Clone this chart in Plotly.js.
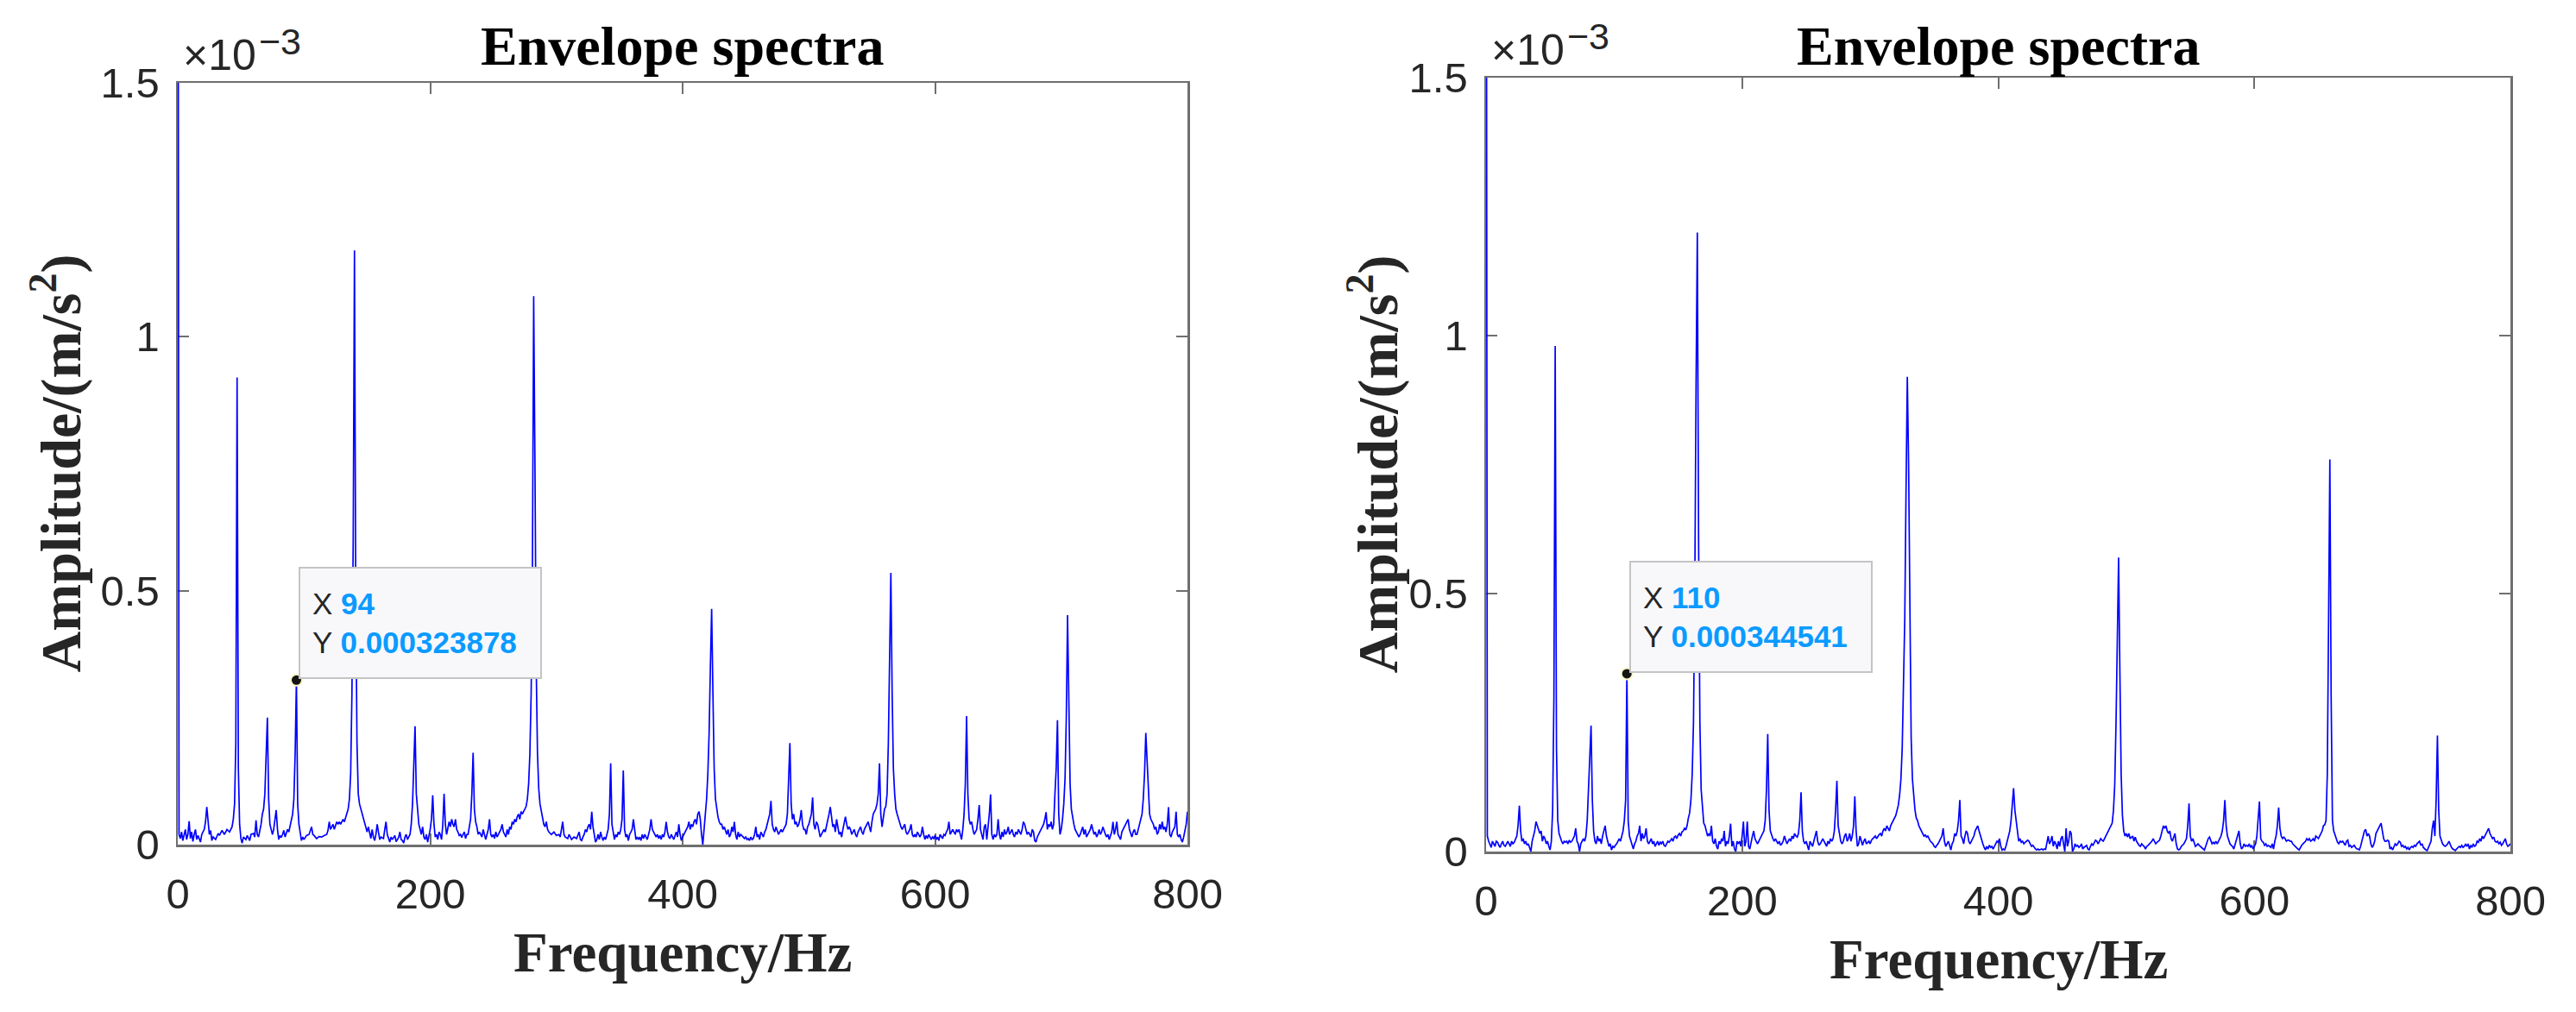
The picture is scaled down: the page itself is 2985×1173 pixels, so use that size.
<!DOCTYPE html>
<html>
<head>
<meta charset="utf-8">
<script src="https://cdn.plot.ly/plotly-3.0.1.min.js"></script>
<style>
html,body{margin:0;padding:0;background:#fff;}
#chart{width:2985px;height:1173px;}
</style>
</head>
<body>
<div id="chart"></div>
<script>
// Envelope spectra, amplitude in units of 1e-3 m/s^2, pairs [frequency Hz, amplitude]
const spectrumLeft = [
[0,2.6],[1,0.02],[2,0.012],[3,0.025],[4,0.008],[5,0.018],[6,0.03],[7,0.01],[8,0.02],[9,0.046],
[10,0.012],[11,0.025],[12,0.006],[13,0.02],[14,0.03],[15,0.01],[16,0.018],[18,0.005],[19,0.02],[21,0.03],
[22,0.045],[23,0.074],[24,0.04],[25,0.02],[26,0.028],[27,0.008],[28,0.015],[30,0.01],[32,0.022],[33,0.018],
[35,0.028],[37,0.02],[39,0.03],[41,0.025],[43,0.035],[44,0.05],[45,0.08],[46,0.2],[47,0.92],[48,0.15],
[49,0.04],[50,0.012],[51,0.003],[52,0.015],[54,0.01],[55,0.018],[57,0.008],[58,0.02],[60,0.022],[61,0.015],
[62,0.048],[63,0.02],[64,0.015],[65,0.025],[66,0.04],[67,0.06],[68,0.07],[69,0.1],[70,0.16],[71,0.25],
[72,0.09],[73,0.04],[74,0.03],[75,0.02],[76,0.03],[77,0.05],[78,0.068],[79,0.03],[80,0.01],[81,0.018],
[82,0.014],[83,0.02],[84,0.028],[85,0.015],[86,0.022],[87,0.03],[88,0.025],[89,0.035],[90,0.05],[91,0.06],
[92,0.09],[93,0.18],[94,0.323878],[95,0.08],[96,0.04],[97,0.02],[98,0.008],[99,0.015],[100,0.01],[102,0.018],
[104,0.02],[106,0.035],[107,0.02],[108,0.018],[110,0.012],[112,0.016],[114,0.015],[116,0.018],[118,0.02],[119,0.028],
[120,0.045],[121,0.03],[122,0.035],[123,0.04],[124,0.03],[125,0.038],[126,0.045],[127,0.04],[128,0.045],[129,0.04],
[130,0.045],[131,0.05],[132,0.045],[133,0.055],[134,0.06],[135,0.07],[136,0.09],[137,0.14],[138,0.3],[139,0.6],
[140,1.17],[141,0.5],[142,0.2],[143,0.1],[144,0.08],[145,0.07],[146,0.06],[147,0.05],[148,0.04],[149,0.03],
[150,0.025],[151,0.035],[152,0.02],[153,0.012],[154,0.03],[155,0.015],[156,0.008],[157,0.02],[158,0.04],[159,0.02],
[160,0.01],[161,0.015],[163,0.012],[164,0.03],[165,0.045],[166,0.02],[167,0.01],[168,0.005],[169,0.015],[170,0.01],
[172,0.018],[173,0.006],[175,0.014],[176,0.025],[177,0.01],[178,0.008],[179,0.003],[180,0.015],[181,0.02],[182,0.01],
[184,0.02],[185,0.04],[186,0.08],[187,0.15],[188,0.233],[189,0.1],[190,0.06],[191,0.04],[192,0.03],[193,0.02],
[194,0.035],[195,0.015],[196,0.01],[197,0.02],[198,0.005],[199,0.015],[200,0.03],[201,0.05],[202,0.097],[203,0.04],
[204,0.015],[205,0.02],[206,0.01],[207,0.025],[208,0.02],[209,0.01],[210,0.04],[211,0.1],[212,0.04],[213,0.02],
[214,0.03],[215,0.045],[216,0.035],[217,0.05],[218,0.04],[219,0.035],[220,0.05],[221,0.03],[222,0.025],[223,0.018],
[224,0.02],[225,0.014],[226,0.02],[227,0.025],[228,0.012],[229,0.02],[230,0.02],[231,0.035],[232,0.05],[233,0.1],
[234,0.181],[235,0.07],[236,0.045],[237,0.035],[238,0.02],[239,0.025],[240,0.02],[241,0.015],[242,0.03],[243,0.02],
[244,0.01],[245,0.02],[246,0.03],[247,0.05],[248,0.02],[249,0.015],[250,0.02],[251,0.012],[252,0.025],[253,0.015],
[254,0.02],[255,0.025],[256,0.03],[257,0.04],[258,0.025],[259,0.02],[260,0.015],[261,0.03],[262,0.02],[263,0.035],
[264,0.03],[265,0.045],[266,0.04],[267,0.05],[268,0.045],[269,0.055],[270,0.06],[271,0.05],[272,0.065],[273,0.06],
[274,0.065],[275,0.07],[276,0.075],[277,0.09],[278,0.12],[279,0.18],[280,0.3],[281,0.55],[282,1.08],[283,0.75],
[284,0.35],[285,0.18],[286,0.11],[287,0.08],[288,0.065],[289,0.05],[290,0.04],[291,0.035],[292,0.045],[293,0.03],
[294,0.025],[296,0.02],[298,0.025],[300,0.018],[302,0.02],[303,0.015],[305,0.045],[306,0.02],[307,0.015],[309,0.012],
[310,0.02],[312,0.01],[314,0.015],[316,0.012],[318,0.025],[319,0.01],[320,0.008],[321,0.015],[322,0.02],[323,0.03],
[324,0.025],[325,0.035],[326,0.04],[327,0.03],[328,0.065],[329,0.035],[330,0.015],[331,0.005],[332,0.01],[333,0.02],
[334,0.01],[335,0.025],[336,0.015],[337,0.008],[338,0.015],[339,0.01],[340,0.02],[341,0.03],[342,0.06],[343,0.16],
[344,0.04],[345,0.02],[346,0.01],[347,0.02],[348,0.015],[349,0.025],[350,0.02],[351,0.03],[352,0.05],[353,0.146],
[354,0.03],[355,0.015],[356,0.02],[357,0.008],[358,0.02],[359,0.025],[360,0.03],[361,0.05],[362,0.025],[363,0.01],
[364,0.015],[365,0.01],[366,0.015],[367,0.008],[368,0.02],[369,0.012],[370,0.02],[371,0.015],[372,0.01],[373,0.02],
[374,0.03],[375,0.05],[376,0.03],[377,0.025],[378,0.02],[379,0.015],[380,0.02],[381,0.012],[382,0.018],[383,0.01],
[384,0.02],[385,0.015],[386,0.025],[387,0.045],[388,0.025],[389,0.015],[390,0.012],[391,0.02],[392,0.015],[393,0.01],
[394,0.018],[395,0.025],[396,0.015],[397,0.04],[398,0.02],[399,0.008],[400,0.015],[401,0.02],[402,0.025],[403,0.03],
[404,0.035],[405,0.045],[406,0.03],[407,0.04],[408,0.035],[409,0.045],[410,0.05],[411,0.04],[412,0.06],[413,0.065],
[414,0.05],[415,0.02],[416,0.0],[417,0.03],[418,0.06],[419,0.09],[420,0.14],[421,0.22],[422,0.35],[423,0.464],
[424,0.3],[425,0.15],[426,0.09],[427,0.07],[428,0.055],[429,0.045],[430,0.04],[431,0.04],[432,0.03],[433,0.035],
[434,0.025],[435,0.02],[436,0.03],[437,0.015],[438,0.02],[439,0.035],[440,0.025],[441,0.045],[442,0.02],[443,0.01],
[444,0.025],[445,0.015],[446,0.02],[447,0.018],[448,0.015],[449,0.012],[450,0.015],[451,0.01],[452,0.012],[453,0.008],
[454,0.015],[455,0.01],[456,0.012],[457,0.02],[458,0.035],[459,0.015],[460,0.02],[461,0.01],[462,0.025],[463,0.02],
[464,0.015],[465,0.025],[466,0.03],[467,0.04],[468,0.05],[469,0.06],[470,0.086],[471,0.04],[472,0.03],[473,0.025],
[474,0.035],[475,0.028],[476,0.02],[477,0.025],[478,0.03],[479,0.025],[480,0.03],[481,0.035],[482,0.04],[483,0.06],
[484,0.12],[485,0.2],[486,0.08],[487,0.05],[488,0.06],[489,0.04],[490,0.045],[491,0.035],[492,0.04],[493,0.05],
[494,0.068],[495,0.04],[496,0.03],[497,0.03],[498,0.02],[499,0.035],[500,0.04],[501,0.05],[502,0.06],[503,0.093],
[504,0.04],[505,0.03],[506,0.045],[507,0.04],[508,0.03],[509,0.015],[510,0.02],[511,0.025],[512,0.03],[513,0.025],
[514,0.035],[515,0.045],[516,0.06],[517,0.074],[518,0.05],[519,0.035],[520,0.04],[521,0.025],[522,0.05],[523,0.03],
[524,0.02],[525,0.025],[526,0.015],[527,0.03],[528,0.04],[529,0.055],[530,0.04],[531,0.03],[532,0.035],[533,0.03],
[534,0.02],[535,0.025],[536,0.03],[537,0.02],[538,0.015],[539,0.025],[540,0.03],[541,0.035],[542,0.025],[543,0.02],
[544,0.03],[545,0.035],[546,0.04],[547,0.045],[548,0.035],[549,0.025],[550,0.045],[551,0.06],[552,0.065],[553,0.07],
[554,0.08],[555,0.1],[556,0.16],[557,0.06],[558,0.035],[559,0.05],[560,0.07],[561,0.075],[562,0.1],[563,0.2],
[564,0.35],[565,0.535],[566,0.3],[567,0.15],[568,0.1],[569,0.07],[570,0.06],[571,0.05],[572,0.045],[573,0.035],
[574,0.03],[575,0.035],[576,0.04],[577,0.025],[578,0.02],[579,0.025],[580,0.03],[581,0.04],[582,0.02],[583,0.015],
[584,0.02],[585,0.015],[586,0.025],[587,0.02],[588,0.015],[589,0.02],[590,0.035],[591,0.02],[592,0.01],[593,0.018],
[594,0.012],[595,0.02],[596,0.015],[597,0.01],[598,0.015],[599,0.012],[600,0.018],[601,0.01],[602,0.015],[603,0.008],
[604,0.02],[605,0.015],[606,0.012],[607,0.02],[608,0.018],[609,0.025],[610,0.03],[611,0.045],[612,0.02],[613,0.025],
[614,0.03],[615,0.025],[616,0.02],[617,0.03],[618,0.025],[619,0.03],[620,0.02],[621,0.01],[622,0.03],[623,0.06],
[624,0.12],[625,0.253],[626,0.1],[627,0.05],[628,0.04],[629,0.045],[630,0.03],[631,0.02],[632,0.025],[633,0.03],
[634,0.05],[635,0.078],[636,0.03],[637,0.02],[638,0.01],[639,0.035],[640,0.04],[641,0.01],[642,0.03],[643,0.06],
[644,0.099],[645,0.02],[646,0.01],[647,0.02],[648,0.015],[649,0.02],[650,0.05],[651,0.02],[652,0.01],[653,0.025],
[654,0.015],[655,0.03],[656,0.02],[657,0.025],[658,0.035],[659,0.02],[660,0.025],[661,0.03],[662,0.02],[663,0.015],
[664,0.025],[665,0.02],[666,0.03],[667,0.025],[668,0.02],[669,0.03],[670,0.045],[671,0.04],[672,0.03],[673,0.02],
[674,0.025],[675,0.02],[676,0.015],[677,0.03],[678,0.025],[679,0.008],[680,0.005],[681,0.015],[682,0.02],[683,0.025],
[684,0.03],[685,0.035],[686,0.04],[687,0.05],[688,0.064],[689,0.03],[690,0.04],[691,0.035],[692,0.045],[693,0.03],
[694,0.04],[695,0.1],[696,0.15],[697,0.245],[698,0.06],[699,0.02],[700,0.03],[701,0.05],[702,0.08],[703,0.13],
[704,0.25],[705,0.452],[706,0.25],[707,0.12],[708,0.07],[709,0.05],[710,0.04],[711,0.03],[712,0.025],[713,0.02],
[714,0.015],[715,0.02],[716,0.03],[717,0.035],[718,0.02],[719,0.03],[720,0.015],[721,0.02],[722,0.025],[723,0.03],
[724,0.04],[725,0.03],[726,0.02],[727,0.025],[728,0.015],[729,0.02],[730,0.03],[731,0.02],[732,0.025],[733,0.035],
[734,0.025],[735,0.02],[736,0.015],[737,0.02],[738,0.01],[739,0.02],[740,0.025],[741,0.045],[742,0.02],[743,0.03],
[744,0.045],[745,0.02],[746,0.015],[747,0.01],[748,0.025],[749,0.03],[750,0.035],[751,0.04],[752,0.045],[753,0.05],
[754,0.03],[755,0.02],[756,0.015],[757,0.025],[758,0.03],[759,0.02],[760,0.02],[761,0.03],[762,0.04],[763,0.05],
[764,0.06],[765,0.09],[766,0.14],[767,0.22],[768,0.16],[769,0.09],[770,0.06],[771,0.05],[772,0.045],[773,0.04],
[774,0.03],[775,0.035],[776,0.02],[777,0.025],[778,0.04],[779,0.03],[780,0.045],[781,0.03],[782,0.035],[783,0.025],
[784,0.04],[785,0.074],[786,0.02],[787,0.015],[788,0.025],[789,0.03],[790,0.035],[791,0.065],[792,0.02],[793,0.015],
[794,0.02],[795,0.01],[796,0.005],[797,0.015],[798,0.03],[799,0.04],[800,0.065]
];

const spectrumRight = [
[0,2.6],[1,0.03],[2,0.02],[3,0.015],[4,0.008],[5,0.02],[6,0.015],[7,0.01],[8,0.02],[9,0.018],
[10,0.012],[11,0.008],[12,0.015],[13,0.02],[14,0.012],[15,0.01],[16,0.015],[17,0.02],[18,0.015],[19,0.01],
[20,0.02],[21,0.015],[22,0.018],[23,0.025],[24,0.03],[25,0.05],[26,0.089],[27,0.04],[28,0.02],[29,0.025],
[30,0.015],[31,0.02],[32,0.012],[33,0.015],[34,0.008],[35,0.0],[36,0.02],[37,0.03],[38,0.04],[39,0.058],
[40,0.05],[41,0.045],[42,0.035],[43,0.04],[44,0.02],[45,0.03],[46,0.025],[47,0.015],[48,0.02],[49,0.01],
[50,0.003],[51,0.02],[52,0.08],[53,0.3],[54,0.98],[55,0.2],[56,0.06],[57,0.035],[58,0.025],[59,0.02],
[60,0.015],[61,0.02],[62,0.018],[63,0.02],[64,0.015],[65,0.022],[66,0.018],[67,0.02],[68,0.025],[69,0.03],
[70,0.045],[71,0.02],[72,0.015],[73,0.0],[74,0.015],[75,0.02],[76,0.025],[77,0.02],[78,0.03],[79,0.06],
[80,0.12],[81,0.2],[82,0.244],[83,0.1],[84,0.04],[85,0.02],[86,0.015],[87,0.03],[88,0.02],[89,0.025],
[90,0.015],[91,0.03],[92,0.04],[93,0.05],[94,0.03],[95,0.02],[96,0.01],[97,0.015],[98,0.003],[99,0.01],
[100,0.008],[101,0.012],[102,0.015],[103,0.02],[104,0.025],[105,0.02],[106,0.03],[107,0.04],[108,0.06],[109,0.1],
[110,0.344541],[111,0.06],[112,0.03],[113,0.02],[114,0.01],[115,0.005],[116,0.015],[117,0.02],[118,0.03],[119,0.035],
[120,0.05],[121,0.02],[122,0.035],[123,0.025],[124,0.03],[125,0.045],[126,0.02],[127,0.015],[128,0.02],[129,0.025],
[130,0.015],[131,0.02],[132,0.01],[133,0.015],[134,0.02],[135,0.012],[136,0.018],[137,0.015],[138,0.02],[139,0.012],
[140,0.01],[141,0.015],[142,0.02],[143,0.018],[144,0.022],[145,0.025],[146,0.02],[147,0.028],[148,0.03],[149,0.025],
[150,0.032],[151,0.035],[152,0.03],[153,0.038],[154,0.04],[155,0.045],[156,0.042],[157,0.05],[158,0.065],[159,0.075],
[160,0.1],[161,0.15],[162,0.25],[163,0.5],[164,0.9],[165,1.2],[166,0.6],[167,0.25],[168,0.12],[169,0.08],
[170,0.055],[171,0.05],[172,0.04],[173,0.03],[174,0.035],[175,0.03],[176,0.05],[177,0.02],[178,0.015],[179,0.025],
[180,0.01],[181,0.005],[182,0.02],[183,0.015],[184,0.025],[185,0.02],[186,0.04],[187,0.01],[188,0.02],[189,0.015],
[190,0.03],[191,0.054],[192,0.01],[193,0.02],[194,0.005],[195,0.0],[196,0.02],[197,0.015],[198,0.02],[199,0.01],
[200,0.03],[201,0.058],[202,0.01],[203,0.02],[204,0.058],[205,0.01],[206,0.005],[207,0.02],[208,0.03],[209,0.04],
[210,0.025],[211,0.02],[212,0.015],[213,0.02],[214,0.025],[215,0.03],[216,0.035],[217,0.04],[218,0.06],[219,0.12],
[220,0.228],[221,0.08],[222,0.04],[223,0.03],[224,0.025],[225,0.02],[226,0.025],[227,0.02],[228,0.015],[229,0.02],
[230,0.012],[231,0.015],[232,0.02],[233,0.03],[234,0.02],[235,0.015],[236,0.02],[237,0.025],[238,0.02],[239,0.03],
[240,0.025],[241,0.035],[242,0.03],[243,0.028],[244,0.035],[245,0.06],[246,0.115],[247,0.04],[248,0.02],[249,0.015],
[250,0.02],[251,0.01],[252,0.003],[253,0.02],[254,0.015],[255,0.01],[256,0.02],[257,0.03],[258,0.04],[259,0.02],
[260,0.012],[261,0.015],[262,0.02],[263,0.025],[264,0.02],[265,0.015],[266,0.01],[267,0.02],[268,0.015],[269,0.025],
[270,0.02],[271,0.025],[272,0.04],[273,0.08],[274,0.137],[275,0.05],[276,0.03],[277,0.02],[278,0.015],[279,0.02],
[280,0.03],[281,0.035],[282,0.02],[283,0.025],[284,0.035],[285,0.02],[286,0.03],[287,0.05],[288,0.107],[289,0.04],
[290,0.01],[291,0.015],[292,0.03],[293,0.02],[294,0.012],[295,0.02],[296,0.025],[297,0.015],[298,0.018],[299,0.02],
[300,0.015],[301,0.022],[302,0.025],[303,0.028],[304,0.03],[305,0.025],[306,0.03],[307,0.033],[308,0.035],[309,0.03],
[310,0.04],[311,0.045],[312,0.04],[313,0.05],[314,0.045],[315,0.04],[316,0.05],[317,0.055],[318,0.06],[319,0.065],
[320,0.07],[321,0.08],[322,0.09],[323,0.11],[324,0.14],[325,0.2],[326,0.3],[327,0.45],[328,0.7],[329,0.92],
[330,0.75],[331,0.4],[332,0.22],[333,0.14],[334,0.1],[335,0.08],[336,0.065],[337,0.06],[338,0.05],[339,0.045],
[340,0.04],[341,0.035],[342,0.03],[343,0.032],[344,0.028],[345,0.03],[346,0.025],[347,0.02],[348,0.018],[349,0.015],
[350,0.01],[351,0.008],[352,0.012],[353,0.015],[354,0.02],[355,0.025],[356,0.03],[357,0.045],[358,0.02],[359,0.01],
[360,0.015],[361,0.02],[362,0.012],[363,0.003],[364,0.015],[365,0.02],[366,0.035],[367,0.03],[368,0.04],[369,0.06],
[370,0.1],[371,0.03],[372,0.025],[373,0.015],[374,0.03],[375,0.04],[376,0.035],[377,0.02],[378,0.015],[379,0.02],
[380,0.025],[381,0.03],[382,0.04],[383,0.045],[384,0.05],[385,0.04],[386,0.03],[387,0.02],[388,0.015],[389,0.008],
[390,0.003],[391,0.01],[392,0.005],[393,0.012],[394,0.008],[395,0.01],[396,0.005],[397,0.01],[398,0.015],[399,0.02],
[400,0.018],[401,0.025],[402,0.01],[403,0.003],[404,0.005],[405,0.003],[406,0.01],[407,0.02],[408,0.025],[409,0.04],
[410,0.06],[411,0.1],[412,0.123],[413,0.08],[414,0.06],[415,0.03],[416,0.02],[417,0.025],[418,0.018],[419,0.02],
[420,0.015],[421,0.018],[422,0.02],[423,0.022],[424,0.02],[425,0.015],[426,0.01],[427,0.012],[428,0.008],[429,0.005],
[430,0.003],[431,0.005],[432,0.003],[433,0.004],[434,0.005],[435,0.003],[436,0.005],[437,0.004],[438,0.02],[439,0.03],
[440,0.015],[441,0.02],[442,0.03],[443,0.01],[444,0.02],[445,0.015],[446,0.005],[447,0.02],[448,0.01],[449,0.025],
[450,0.03],[451,0.01],[452,0.0],[453,0.045],[454,0.01],[455,0.02],[456,0.04],[457,0.035],[458,0.0],[459,0.005],
[460,0.015],[461,0.01],[462,0.012],[463,0.008],[464,0.01],[465,0.015],[466,0.005],[467,0.008],[468,0.01],[469,0.012],
[470,0.005],[471,0.003],[472,0.01],[473,0.015],[474,0.012],[475,0.018],[476,0.022],[477,0.02],[478,0.015],[479,0.02],
[480,0.025],[481,0.022],[482,0.02],[483,0.025],[484,0.03],[485,0.035],[486,0.04],[487,0.045],[488,0.05],[489,0.055],
[490,0.08],[491,0.13],[492,0.25],[493,0.45],[494,0.57],[495,0.35],[496,0.15],[497,0.07],[498,0.04],[499,0.03],
[500,0.035],[501,0.028],[502,0.035],[503,0.025],[504,0.028],[505,0.03],[506,0.02],[507,0.028],[508,0.02],[509,0.015],
[510,0.012],[511,0.01],[512,0.015],[513,0.012],[514,0.01],[515,0.005],[516,0.01],[517,0.012],[518,0.015],[519,0.018],
[520,0.02],[521,0.025],[522,0.02],[523,0.015],[524,0.018],[525,0.02],[526,0.022],[527,0.03],[528,0.04],[529,0.05],
[530,0.045],[531,0.05],[532,0.04],[533,0.035],[534,0.04],[535,0.025],[536,0.02],[537,0.03],[538,0.035],[539,0.015],
[540,0.005],[541,0.003],[542,0.005],[543,0.01],[544,0.012],[545,0.015],[546,0.02],[547,0.025],[548,0.05],[549,0.093],
[550,0.03],[551,0.02],[552,0.025],[553,0.015],[554,0.01],[555,0.012],[556,0.015],[557,0.012],[558,0.01],[559,0.008],
[560,0.005],[561,0.003],[562,0.01],[563,0.02],[564,0.025],[565,0.028],[566,0.02],[567,0.015],[568,0.018],[569,0.015],
[570,0.02],[571,0.015],[572,0.02],[573,0.025],[574,0.03],[575,0.04],[576,0.06],[577,0.1],[578,0.05],[579,0.03],
[580,0.02],[581,0.015],[582,0.012],[583,0.01],[584,0.005],[585,0.015],[586,0.02],[587,0.035],[588,0.04],[589,0.015],
[590,0.005],[591,0.008],[592,0.015],[593,0.01],[594,0.012],[595,0.01],[596,0.015],[597,0.008],[598,0.012],[599,0.005],
[600,0.01],[601,0.015],[602,0.03],[603,0.06],[604,0.097],[605,0.025],[606,0.02],[607,0.018],[608,0.012],[609,0.015],
[610,0.01],[611,0.012],[612,0.01],[613,0.008],[614,0.015],[615,0.005],[616,0.02],[617,0.03],[618,0.05],[619,0.085],
[620,0.045],[621,0.03],[622,0.025],[623,0.028],[624,0.025],[625,0.02],[626,0.022],[627,0.022],[628,0.02],[629,0.02],
[630,0.015],[631,0.012],[632,0.01],[633,0.008],[634,0.005],[635,0.003],[636,0.008],[637,0.012],[638,0.015],[639,0.018],
[640,0.02],[641,0.025],[642,0.022],[643,0.025],[644,0.02],[645,0.022],[646,0.025],[647,0.02],[648,0.03],[649,0.028],
[650,0.025],[651,0.03],[652,0.035],[653,0.04],[654,0.05],[655,0.052],[656,0.06],[657,0.15],[658,0.45],[659,0.76],
[660,0.3],[661,0.06],[662,0.04],[663,0.03],[664,0.025],[665,0.018],[666,0.015],[667,0.02],[668,0.018],[669,0.02],
[670,0.015],[671,0.012],[672,0.02],[673,0.022],[674,0.01],[675,0.012],[676,0.008],[677,0.01],[678,0.012],[679,0.008],
[680,0.005],[681,0.005],[682,0.003],[683,0.01],[684,0.02],[685,0.03],[686,0.04],[687,0.043],[688,0.03],[689,0.035],
[690,0.03],[691,0.015],[692,0.008],[693,0.012],[694,0.02],[695,0.035],[696,0.04],[697,0.045],[698,0.05],[699,0.055],
[700,0.04],[701,0.025],[702,0.02],[703,0.02],[704,0.022],[705,0.02],[706,0.005],[707,0.008],[708,0.003],[709,0.01],
[710,0.015],[711,0.012],[712,0.015],[713,0.02],[714,0.018],[715,0.01],[716,0.012],[717,0.008],[718,0.01],[719,0.005],
[720,0.008],[721,0.003],[722,0.008],[723,0.01],[724,0.008],[725,0.012],[726,0.01],[727,0.015],[728,0.018],[729,0.02],
[730,0.012],[731,0.015],[732,0.008],[733,0.005],[734,0.003],[735,0.002],[736,0.008],[737,0.012],[738,0.02],[739,0.045],
[740,0.06],[741,0.03],[742,0.1],[743,0.225],[744,0.08],[745,0.03],[746,0.02],[747,0.015],[748,0.012],[749,0.01],
[750,0.012],[751,0.015],[752,0.02],[753,0.012],[754,0.008],[755,0.005],[756,0.003],[757,0.002],[758,0.005],[759,0.008],
[760,0.01],[761,0.008],[762,0.012],[763,0.008],[764,0.01],[765,0.015],[766,0.01],[767,0.015],[768,0.005],[769,0.012],
[770,0.008],[771,0.015],[772,0.01],[773,0.012],[774,0.02],[775,0.018],[776,0.025],[777,0.02],[778,0.03],[779,0.025],
[780,0.03],[781,0.035],[782,0.04],[783,0.045],[784,0.035],[785,0.03],[786,0.025],[787,0.028],[788,0.02],[789,0.018],
[790,0.02],[791,0.015],[792,0.018],[793,0.012],[794,0.015],[795,0.02],[796,0.025],[797,0.015],[798,0.01],[799,0.012],
[800,0.015]
];

// data tips (x in Hz, y in m/s^2 as displayed)
const tipX = [94, 110];
const tipYText = ['0.000323878', '0.000344541'];

const xTickVals = [0, 200, 400, 600, 800];
const xTickText = ['0', '200', '400', '600', '800'];
const yTickVals = [0, 0.5, 1, 1.5];
const yTickText = ['0', '0.5', '1', '1.5'];

const titleText = 'Envelope spectra';
const xTitleText = 'Frequency/Hz';
const yTitleText = 'Amplitude/(m/s<sup>2</sup>)';
const exponentBase = '\u00d710';
const exponentPower = '\u22123';

const W = 2985, H = 1173;
const lineBlue = '#0000ff';
const axisGray = '#6f6f6f';
const textDark = '#262626';
const tipBlue = '#0a9bff';

const panels = [
  {spec: spectrumLeft, px: [206, 1376], py: [96, 979], ylabX: 66},
  {spec: spectrumRight, px: [1722, 2909], py: [90, 987], ylabX: 1592}
];

const data = [];
const layout = {
  width: W, height: H,
  margin: {l: 0, r: 0, t: 0, b: 0, pad: 0},
  paper_bgcolor: '#ffffff', plot_bgcolor: '#ffffff',
  showlegend: false,
  annotations: []
};

panels.forEach((p, i) => {
  const sfx = i === 0 ? '' : '2';
  const xa = 'x' + sfx, ya = 'y' + sfx;
  data.push({
    type: 'scatter', mode: 'lines', xaxis: xa, yaxis: ya,
    x: p.spec.map(d => d[0]), y: p.spec.map(d => d[1]),
    line: {color: lineBlue, width: 1.7}, hoverinfo: 'skip'
  });
  const tipYVal = parseFloat(tipYText[i]) * 1000;
  data.push({
    type: 'scatter', mode: 'markers', xaxis: xa, yaxis: ya,
    x: [tipX[i]], y: [tipYVal], cliponaxis: false,
    marker: {size: 13, color: '#141414', line: {color: '#fbf6c8', width: 2}},
    hoverinfo: 'skip'
  });
  const common = {
    showgrid: false, zeroline: false, showline: true, mirror: 'ticks',
    linecolor: axisGray, linewidth: 2.5,
    ticks: 'inside', ticklen: 13, tickwidth: 2, tickcolor: axisGray,
    tickfont: {family: 'Liberation Sans, Arial, sans-serif', size: 49, color: textDark},
    layer: 'below traces', automargin: false, fixedrange: true
  };
  layout['xaxis' + sfx] = Object.assign({}, common, {
    domain: [p.px[0] / W, p.px[1] / W], range: [0, 800], anchor: ya,
    tickmode: 'array', tickvals: xTickVals, ticktext: xTickText, ticklabelstandoff: 13
  });
  layout['yaxis' + sfx] = Object.assign({}, common, {
    domain: [1 - p.py[1] / H, 1 - p.py[0] / H], range: [0, 1.5], anchor: xa,
    tickmode: 'array', tickvals: yTickVals, ticktext: yTickText, ticklabelstandoff: 9
  });
  const cx = (p.px[0] + p.px[1]) / 2 / W;
  // title
  layout.annotations.push({
    xref: 'paper', yref: 'paper', x: cx, y: 1 - 53 / H, xanchor: 'center', yanchor: 'middle',
    text: '<b>' + titleText + '</b>', showarrow: false,
    font: {family: 'Liberation Serif, Times New Roman, serif', size: 64, color: '#000000'}
  });
  // x axis title
  layout.annotations.push({
    xref: 'paper', yref: 'paper', x: cx, y: 1 - (p.py[1] + 125) / H, xanchor: 'center', yanchor: 'middle',
    text: '<b>' + xTitleText + '</b>', showarrow: false,
    font: {family: 'Liberation Serif, Times New Roman, serif', size: 65, color: textDark}
  });
  // y axis title
  layout.annotations.push({
    xref: 'paper', yref: 'paper', x: p.ylabX / W, y: 1 - (p.py[0] + p.py[1]) / 2 / H,
    xanchor: 'center', yanchor: 'middle', textangle: -90,
    text: '<b>' + yTitleText + '</b>', showarrow: false,
    font: {family: 'Liberation Serif, Times New Roman, serif', size: 66, color: textDark}
  });
  // exponent label (x10^-3)
  layout.annotations.push({
    xref: xa + ' domain', yref: ya + ' domain', x: 0, y: 1, xanchor: 'left', yanchor: 'bottom',
    xshift: 4, yshift: 2,
    text: exponentBase, showarrow: false,
    font: {family: 'Liberation Sans, Arial, sans-serif', size: 50, color: textDark}
  });
  layout.annotations.push({
    xref: xa + ' domain', yref: ya + ' domain', x: 0, y: 1, xanchor: 'left', yanchor: 'bottom',
    xshift: 92, yshift: 22,
    text: exponentPower, showarrow: false,
    font: {family: 'Liberation Sans, Arial, sans-serif', size: 43, color: textDark}
  });
  // data tip box
  layout.annotations.push({
    xref: xa, yref: ya, x: tipX[i], y: tipYVal, xanchor: 'left', yanchor: 'bottom',
    xshift: 3, yshift: 1, showarrow: false, align: 'left', valign: 'middle',
    width: 250, height: 98, borderpad: 14, borderwidth: 2,
    bgcolor: '#f8f8fb', bordercolor: '#c4c4c4',
    text: 'X <span style="color:' + tipBlue + '"><b>' + tipX[i] + '</b></span><br>' +
          'Y <span style="color:' + tipBlue + '"><b>' + tipYText[i] + '</b></span>',
    font: {family: 'Liberation Sans, Arial, sans-serif', size: 35, color: textDark}
  });
});

Plotly.newPlot('chart', data, layout, {staticPlot: true, displayModeBar: false});
</script>
</body>
</html>
